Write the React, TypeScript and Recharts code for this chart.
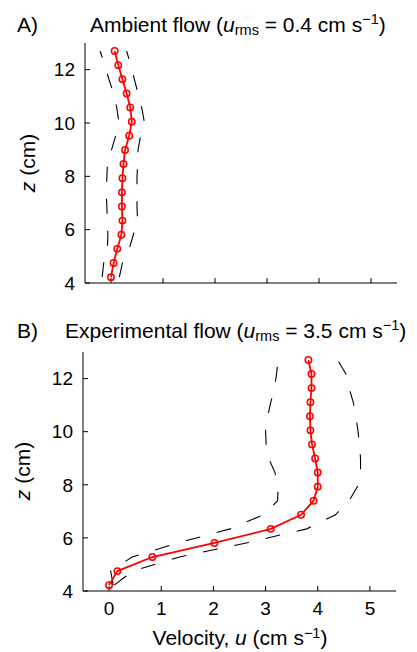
import React from 'react'
import { LineChart, Line, XAxis, YAxis } from 'recharts'

// measurement heights (cm), shared by both profiles
const heights = [4.22, 4.75, 5.28, 5.81, 6.34, 6.87, 7.4, 7.93, 8.46, 8.99, 9.52, 10.05, 10.58, 11.11, 11.64, 12.17, 12.7]

// A) ambient flow
const ambientMean = [0.0, 0.05, 0.12, 0.2, 0.22, 0.21, 0.21, 0.22, 0.24, 0.27, 0.35, 0.4, 0.37, 0.3, 0.22, 0.14, 0.07]
const ambientLow = [-0.17, -0.14, -0.07, -0.06, -0.07, -0.08, -0.09, -0.08, -0.07, 0.01, 0.09, 0.15, 0.11, 0.05, -0.04, -0.12, -0.21]
const ambientHigh = [0.16, 0.22, 0.35, 0.43, 0.51, 0.5, 0.5, 0.5, 0.51, 0.52, 0.57, 0.64, 0.59, 0.52, 0.45, 0.38, 0.3]

// B) experimental flow
const expMean = [0.0, 0.16, 0.83, 2.02, 3.1, 3.68, 3.92, 4.0, 4.0, 3.95, 3.89, 3.86, 3.85, 3.86, 3.88, 3.88, 3.82]
const expLow = [0.08, 0.03, 0.44, 1.32, 2.32, 2.96, 3.23, 3.24, 3.18, 3.06, 3.01, 3.0, 3.04, 3.1, 3.17, 3.21, 3.24]
const expHigh = [0.1, 0.45, 1.35, 2.63, 3.79, 4.34, 4.6, 4.76, 4.82, 4.82, 4.8, 4.77, 4.73, 4.68, 4.6, 4.54, 4.38]

const velocityTicks = [0, 1, 2, 3, 4, 5]
const heightTicks = [4, 6, 8, 10, 12]

const FONT = '"Liberation Sans", Arial, Helvetica, sans-serif'
const tickStyle = { fill: '#000', fontSize: 19, fontFamily: FONT }
const blank = () => ''

const buildRows = (mean: number[], lo: number[], hi: number[]) =>
    heights.map((z, i) => ({ z, mean: mean[i], lo: lo[i], hi: hi[i] }))

interface PanelProps {
    rows: { z: number; mean: number; lo: number; hi: number }[]
    top: number
    height: number
    plotTop: number
    axisWidth: number
    right: number
    bottomAxis: number
    showXLabels: boolean
}

const Panel: React.FC<PanelProps> = ({ rows, top, height, plotTop, axisWidth, right, bottomAxis, showXLabels }) => (
    <div style={{ position: 'absolute', left: 0, top }}>
        <LineChart
            width={417}
            height={height}
            data={rows}
            layout="vertical"
            margin={{ top: plotTop, right, bottom: 0, left: 0 }}
        >
            <XAxis
                xAxisId="b"
                type="number"
                domain={[-0.5, 5.5]}
                ticks={velocityTicks}
                interval={0}
                allowDataOverflow
                height={bottomAxis}
                tickSize={-5}
                tickMargin={16}
                tick={tickStyle}
                tickFormatter={showXLabels ? undefined : blank}
                axisLine={{ stroke: '#000' }}
                tickLine={{ stroke: '#000' }}
            />
            <XAxis
                xAxisId="t"
                orientation="top"
                type="number"
                domain={[-0.5, 5.5]}
                ticks={velocityTicks}
                interval={0}
                allowDataOverflow
                height={0}
                tickSize={-5}
                tickFormatter={blank}
                axisLine={{ stroke: '#000' }}
                tickLine={{ stroke: '#000' }}
            />
            <YAxis
                yAxisId="l"
                dataKey="z"
                type="number"
                domain={[4, 13]}
                reversed
                ticks={heightTicks}
                interval={0}
                allowDataOverflow
                width={axisWidth}
                tickSize={-5}
                tickMargin={15}
                tick={tickStyle}
                axisLine={{ stroke: '#000' }}
                tickLine={{ stroke: '#000' }}
            />
            <YAxis
                yAxisId="r"
                orientation="right"
                dataKey="z"
                type="number"
                domain={[4, 13]}
                reversed
                ticks={heightTicks}
                interval={0}
                allowDataOverflow
                width={0}
                tickSize={-5}
                tickFormatter={blank}
                axisLine={{ stroke: '#000' }}
                tickLine={{ stroke: '#000' }}
            />
            <Line
                xAxisId="b"
                yAxisId="l"
                dataKey="lo"
                stroke="#000"
                strokeWidth={1.1}
                strokeDasharray="15 17"
                dot={false}
                type="linear"
                isAnimationActive={false}
            />
            <Line
                xAxisId="b"
                yAxisId="l"
                dataKey="hi"
                stroke="#000"
                strokeWidth={1.1}
                strokeDasharray="15 17"
                dot={false}
                type="linear"
                isAnimationActive={false}
            />
            <Line
                xAxisId="b"
                yAxisId="l"
                dataKey="mean"
                stroke="#ff0000"
                strokeWidth={1.8}
                dot={{ r: 3.2, stroke: '#ff0000', strokeWidth: 1.5, fill: 'none' }}
                type="linear"
                isAnimationActive={false}
            />
        </LineChart>
    </div>
)

export default function App() {
    const ambient = buildRows(ambientMean, ambientLow, ambientHigh)
    const experimental = buildRows(expMean, expLow, expHigh)
    const sub = 14.5
    return (
        <div style={{ position: 'absolute', left: 0, top: 0, width: 417, height: 652, background: '#fff' }}>
            <Panel rows={ambient} top={0} height={300} plotTop={43} axisWidth={85} right={20} bottomAxis={17} showXLabels={false} />
            <Panel rows={experimental} top={300} height={352} plotTop={52} axisWidth={83} right={21} bottomAxis={61} showXLabels />
            <svg
                width={417}
                height={652}
                style={{ position: 'absolute', left: 0, top: 0, pointerEvents: 'none' }}
                fontFamily={FONT}
                fill="#000"
            >
                <text x={17} y={31.5} fontSize={21}>A)</text>
                <text x={90} y={31.5} fontSize={21}>
                    Ambient flow (<tspan fontStyle="italic">u</tspan>
                    <tspan fontSize={sub} dy={3.5}>rms</tspan>
                    <tspan dy={-3.5}> = 0.4 cm s</tspan>
                    <tspan fontSize={sub} dy={-7.5}>−1</tspan>
                    <tspan dy={7.5}>)</tspan>
                </text>
                <text x={17} y={337.5} fontSize={21}>B)</text>
                <text x={65} y={337.5} fontSize={21}>
                    Experimental flow (<tspan fontStyle="italic">u</tspan>
                    <tspan fontSize={sub} dy={3.5}>rms</tspan>
                    <tspan dy={-3.5}> = 3.5 cm s</tspan>
                    <tspan fontSize={sub} dy={-7.5}>−1</tspan>
                    <tspan dy={7.5}>)</tspan>
                </text>
                <text transform="translate(35,163) rotate(-90)" textAnchor="middle" fontSize={21}>
                    <tspan fontStyle="italic">z</tspan> (cm)
                </text>
                <text transform="translate(30,471) rotate(-90)" textAnchor="middle" fontSize={21}>
                    <tspan fontStyle="italic">z</tspan> (cm)
                </text>
                <text x={240} y={645} textAnchor="middle" fontSize={21}>
                    Velocity, <tspan fontStyle="italic">u</tspan> (cm s
                    <tspan fontSize={sub} dy={-7.5}>−1</tspan>
                    <tspan dy={7.5}>)</tspan>
                </text>
            </svg>
        </div>
    )
}
